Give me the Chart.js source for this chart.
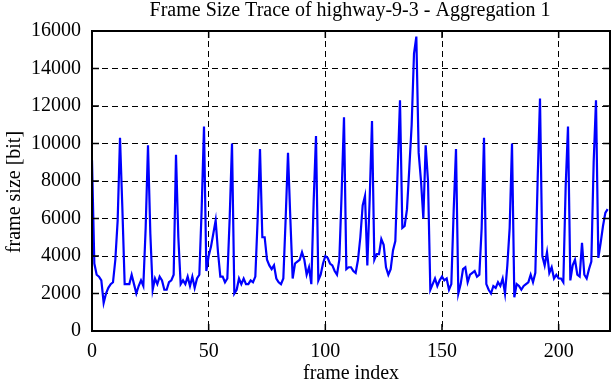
<!DOCTYPE html>
<html>
<head>
<meta charset="utf-8">
<script src="https://cdn.jsdelivr.net/npm/chart.js@4.4.1/dist/chart.umd.min.js"></script>
<style>
html,body{margin:0;padding:0;background:#fff;}
#wrap{width:612px;height:382px;}
</style>
</head>
<body>
<div id="wrap"><canvas id="c" width="612" height="382"></canvas></div>
<script>
const titleText = "Frame Size Trace of highway-9-3 - Aggregation 1";
const xTitle = "frame index";
const yTitle = "frame size [bit]";
const xTicks = [0, 50, 100, 150, 200];
const yTicks = [0, 2000, 4000, 6000, 8000, 10000, 12000, 14000, 16000];
const frameSizes = [
9100,3600,3000,2900,2700,1500,2000,2300,2500,2600,
3800,5900,10300,6600,2500,2500,2500,3000,2500,2000,
2400,2700,2400,5500,9900,5200,2200,2800,2500,2900,
2700,2200,2200,2600,2700,3000,9400,5000,2500,2700,
2500,2900,2400,2900,2300,2800,3000,6500,10900,3200,
4000,4500,5200,5900,4200,2900,2900,2600,2800,6000,
10000,2000,2200,2800,2500,2800,2500,2500,2700,2600,
2900,6000,9700,5000,5000,3800,3500,3300,3500,2800,
2600,2500,2800,6000,9500,6000,2800,3600,3700,3800,
4200,3800,3000,3400,2500,6900,10400,2700,3000,3600,
4000,3900,3600,3500,3200,3000,3800,7400,11400,3300,
3400,3400,3200,3100,3800,5000,6700,7200,3500,7000,
11200,3800,4100,4100,4900,4600,3400,3000,3300,4300,
4800,8600,12300,5500,5600,6500,8700,11000,14800,15700,
9500,8000,6000,9900,8000,2200,2500,2800,2400,2700,
2900,2700,2800,2200,2500,6400,9700,2000,2500,3300,
3400,2600,3000,3100,3200,2900,3000,5500,10300,2500,
2200,2000,2400,2300,2600,2400,2800,2000,3500,5500,
10000,1800,2500,2400,2200,2400,2500,2600,3000,2600,
3100,8100,12400,4000,3500,4200,3100,3400,2800,3000,
2800,2800,2600,7700,10900,2700,3500,3800,3000,2900,
4700,3000,2800,3300,3700,9000,12300,3900,4700,5600,
6300,6500
];
const xMax = 222;

const FONT = "'Liberation Serif', 'DejaVu Serif', serif";
const FS = 20;
const points = frameSizes.map((v, i) => ({x: i, y: v}));

const framePlugin = {
  id: 'framePlugin',
  afterDraw(chart) {
    const ctx = chart.ctx;
    const a = chart.chartArea;
    const xs = chart.scales.x, ys = chart.scales.y;
    ctx.save();
    ctx.strokeStyle = '#000';
    ctx.lineWidth = 1.5;
    ctx.setLineDash([]);
    const tl = 7;
    ctx.beginPath();
    xTicks.forEach(t => {
      if (t === 0) return;
      const px = xs.getPixelForValue(t);
      ctx.moveTo(px, a.bottom); ctx.lineTo(px, a.bottom - tl);
      ctx.moveTo(px, a.top); ctx.lineTo(px, a.top + tl);
    });
    yTicks.forEach(t => {
      if (t === 0 || t === 16000) return;
      const py = ys.getPixelForValue(t);
      ctx.moveTo(a.left, py); ctx.lineTo(a.left + tl, py);
      ctx.moveTo(a.right, py); ctx.lineTo(a.right - tl, py);
    });
    ctx.stroke();
    ctx.lineWidth = 2;
    ctx.strokeRect(a.left, a.top, a.right - a.left, a.bottom - a.top);
    ctx.fillStyle = '#000';
    ctx.font = FS + "px " + FONT;
    ctx.textAlign = 'center';
    ctx.textBaseline = 'alphabetic';
    ctx.fillText(titleText, (a.left + a.right) / 2 - 1, 16);
    ctx.fillText(xTitle, (a.left + a.right) / 2, 379);
    ctx.translate(20, 192);
    ctx.rotate(-Math.PI / 2);
    ctx.fillText(yTitle, 0, 0);
    ctx.restore();
  }
};

new Chart(document.getElementById('c'), {
  type: 'line',
  data: {
    datasets: [{
      data: points,
      borderColor: '#0000ff',
      borderWidth: 2.2,
      pointRadius: 0,
      tension: 0,
      fill: false
    }]
  },
  options: {
    responsive: false,
    animation: false,
    layout: {padding: {left: 0, right: 2, top: 31, bottom: 0}},
    plugins: {legend: {display: false}, title: {display: false}, tooltip: {enabled: false}},
    scales: {
      x: {
        type: 'linear',
        min: 0, max: xMax,
        afterBuildTicks: s => { s.ticks = xTicks.map(v => ({value: v})); },
        afterFit: s => { s.height = 51; },
        border: {display: false, dash: [6, 4]},
        grid: {
          color: c => (c.tick && c.tick.value === 0) ? 'rgba(0,0,0,0)' : '#000',
          lineWidth: 1,
          drawTicks: false,
          tickLength: 0
        },
        ticks: {
          color: '#000', font: {family: FONT, size: FS}, padding: 9,
          maxRotation: 0, autoSkip: false,
          callback: v => String(v)
        }
      },
      y: {
        min: 0, max: 16000,
        afterBuildTicks: s => { s.ticks = yTicks.map(v => ({value: v})); },
        afterFit: s => { s.width = 92; },
        border: {display: false, dash: [6, 4]},
        grid: {
          color: c => (c.tick && (c.tick.value === 0 || c.tick.value === 16000)) ? 'rgba(0,0,0,0)' : '#000',
          lineWidth: 1,
          drawTicks: false,
          tickLength: 0
        },
        ticks: {
          color: '#000', font: {family: FONT, size: FS}, padding: 11,
          autoSkip: false,
          callback: v => String(v)
        }
      }
    }
  },
  plugins: [framePlugin]
});
</script>
</body>
</html>
